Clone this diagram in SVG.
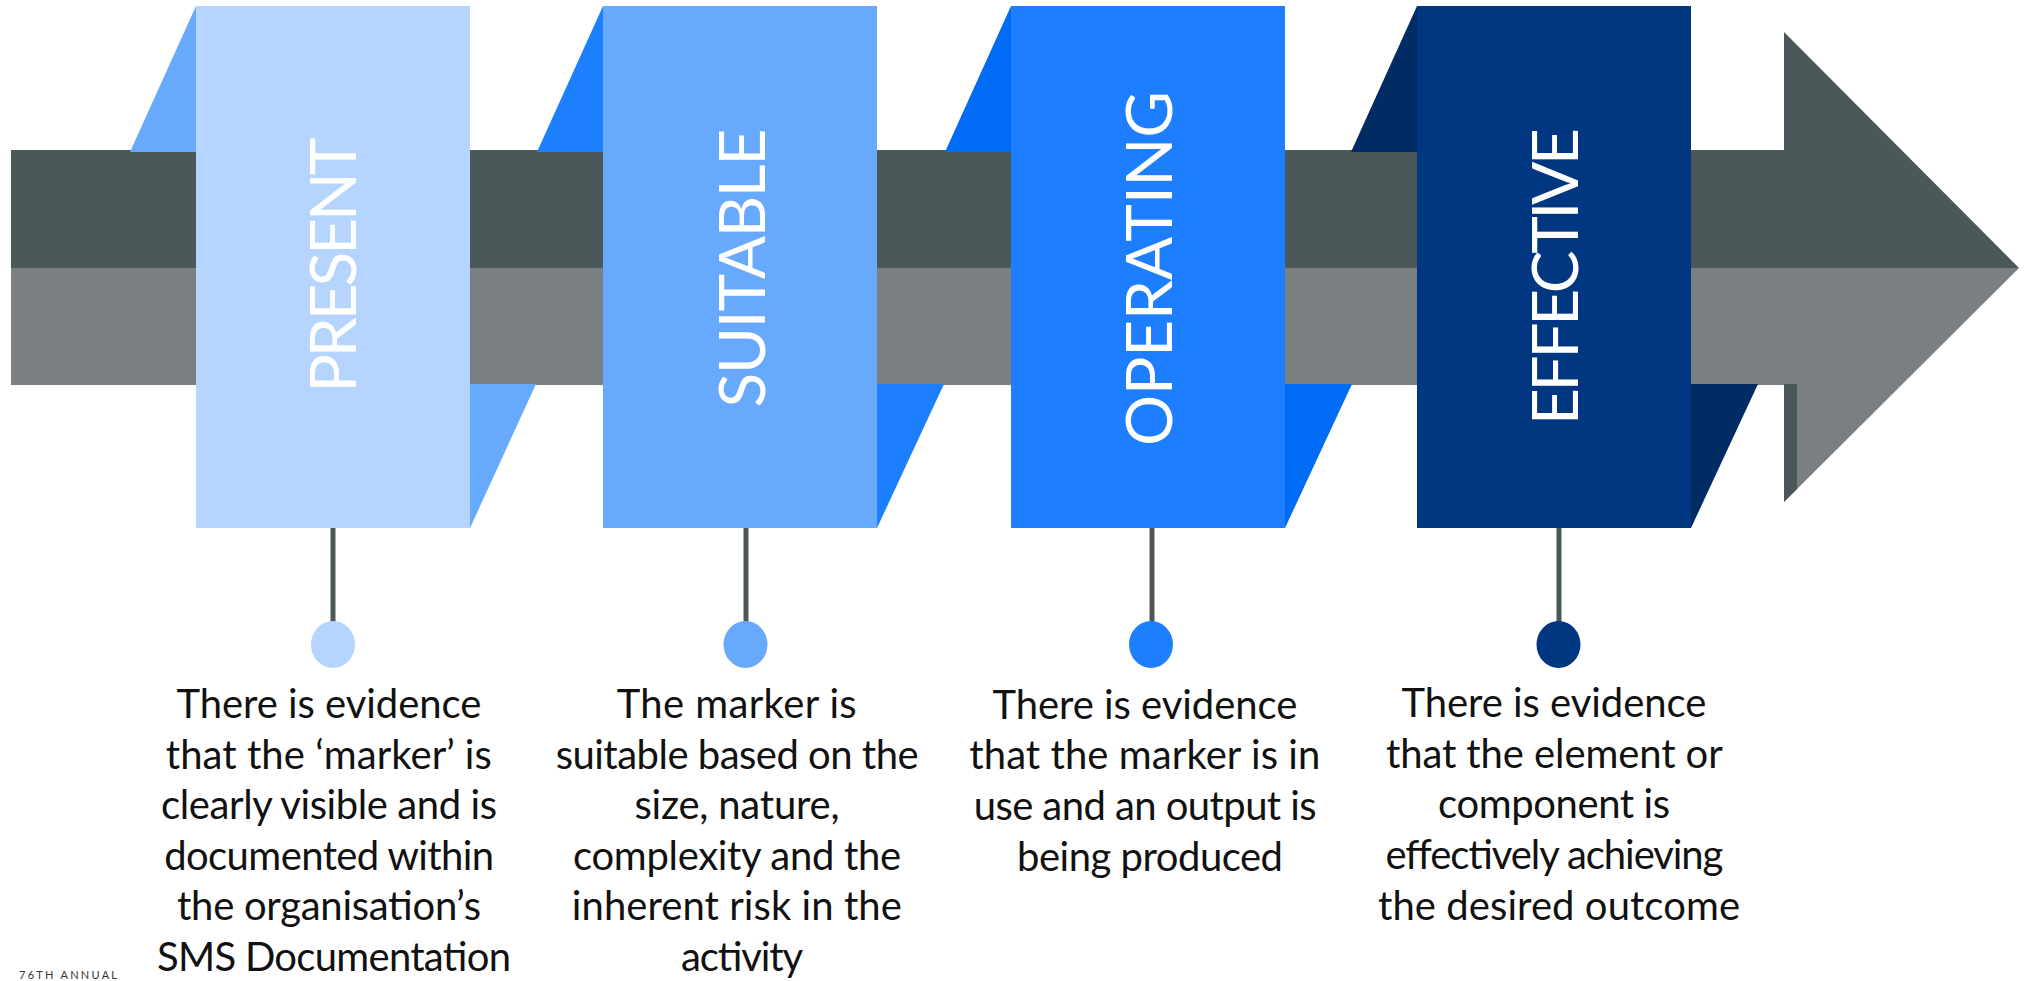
<svg xmlns="http://www.w3.org/2000/svg" width="2026" height="981" viewBox="0 0 2026 981">
  <style>
    .label { font-family: Lato, "Open Sans", "Liberation Sans", sans-serif; font-weight: 400; font-size: 64px; fill: #ffffff; text-anchor: middle; }
    .desc { font-family: Lato, "Open Sans", "Liberation Sans", sans-serif; font-size: 40px; fill: #111111; text-anchor: middle; }
    .stem { stroke: #4d5759; stroke-width: 5; fill: none; }
    .foot { font-family: Lato, "Liberation Sans", sans-serif; font-size: 11px; fill: #333333; letter-spacing: 1px; }
  </style>
  <rect x="0" y="0" width="2026" height="981" fill="#ffffff"/>

  <g id="arrow">
    <rect x="11" y="150" width="1774" height="119" fill="#4b5859"/>
    <rect x="11" y="268" width="1774" height="117" fill="#7a8081"/>
    <polygon points="1784,32 2019,268 1784,268" fill="#4b5859"/>
    <polygon points="1784,268 2019,268 1784,502" fill="#7a8081"/>
    <polygon points="1784,384 1797,384 1797,489 1784,502" fill="#4b5859"/>
  </g>

  <g id="connectors">
    <line class="stem" x1="333" y1="526" x2="333" y2="624"/>
    <line class="stem" x1="746" y1="526" x2="746" y2="624"/>
    <line class="stem" x1="1152" y1="526" x2="1152" y2="624"/>
    <line class="stem" x1="1559" y1="526" x2="1559" y2="624"/>
  </g>

  <g id="node-present">
    <polygon points="130,152 196,6 196,152" fill="#66a9fd"/>
    <polygon points="470,384 536,384 470,528" fill="#66a9fd"/>
    <rect x="196" y="6" width="274" height="522" fill="#b5d5fe"/>
    <text class="label" transform="translate(356,265) rotate(-90)" textLength="255" lengthAdjust="spacing">PRESENT</text>
    <ellipse cx="333" cy="644.5" rx="22" ry="23.5" fill="#b5d5fe"/>
    <text class="desc">
      <tspan x="334" y="718" textLength="305" lengthAdjust="spacing">There is evidence</tspan>
      <tspan x="334" y="769" textLength="326" lengthAdjust="spacing">that the ‘marker’ is</tspan>
      <tspan x="334" y="819" textLength="336" lengthAdjust="spacing">clearly visible and is</tspan>
      <tspan x="334" y="870" textLength="330" lengthAdjust="spacing">documented within</tspan>
      <tspan x="334" y="920" textLength="304" lengthAdjust="spacing">the organisation’s</tspan>
      <tspan x="334" y="971" textLength="354" lengthAdjust="spacing">SMS Documentation</tspan>
    </text>
  </g>

  <g id="node-suitable">
    <polygon points="537,152 603,6 603,152" fill="#1c7ffe"/>
    <polygon points="877,384 944,384 877,528" fill="#1c7ffe"/>
    <rect x="603" y="6" width="274" height="522" fill="#66a9fd"/>
    <text class="label" transform="translate(765,268) rotate(-90)" textLength="279" lengthAdjust="spacing">SUITABLE</text>
    <ellipse cx="745.5" cy="644.5" rx="22" ry="23.5" fill="#66a9fd"/>
    <text class="desc">
      <tspan x="742" y="718" textLength="240" lengthAdjust="spacing">The marker is</tspan>
      <tspan x="742" y="769" textLength="363" lengthAdjust="spacing">suitable based on the</tspan>
      <tspan x="742" y="819" textLength="205" lengthAdjust="spacing">size, nature,</tspan>
      <tspan x="742" y="870" textLength="328" lengthAdjust="spacing">complexity and the</tspan>
      <tspan x="742" y="920" textLength="330" lengthAdjust="spacing">inherent risk in the</tspan>
      <tspan x="742" y="971" textLength="122" lengthAdjust="spacing">activity</tspan>
    </text>
  </g>

  <g id="node-operating">
    <polygon points="945,152 1011,6 1011,152" fill="#006cf5"/>
    <polygon points="1285,384 1352,384 1285,528" fill="#006cf5"/>
    <rect x="1011" y="6" width="274" height="522" fill="#1d7fff"/>
    <text class="label" transform="translate(1172,268.5) rotate(-90)" textLength="355" lengthAdjust="spacing">OPERATING</text>
    <ellipse cx="1151" cy="644.5" rx="22" ry="23.5" fill="#1d7fff"/>
    <text class="desc">
      <tspan x="1150" y="719" textLength="305" lengthAdjust="spacing">There is evidence</tspan>
      <tspan x="1150" y="769" textLength="351" lengthAdjust="spacing">that the marker is in</tspan>
      <tspan x="1150" y="820" textLength="343" lengthAdjust="spacing">use and an output is</tspan>
      <tspan x="1150" y="871" textLength="266" lengthAdjust="spacing">being produced</tspan>
    </text>
  </g>

  <g id="node-effective">
    <polygon points="1351,152 1417,6 1417,152" fill="#012b63"/>
    <polygon points="1691,384 1758,384 1691,528" fill="#012b63"/>
    <rect x="1417" y="6" width="274" height="522" fill="#003780"/>
    <text class="label" transform="translate(1578,276.5) rotate(-90)" textLength="297" lengthAdjust="spacing">EFFECTIVE</text>
    <ellipse cx="1558.5" cy="644.5" rx="22" ry="23.5" fill="#003780"/>
    <text class="desc">
      <tspan x="1559" y="717" textLength="305" lengthAdjust="spacing">There is evidence</tspan>
      <tspan x="1559" y="768" textLength="336" lengthAdjust="spacing">that the element or</tspan>
      <tspan x="1559" y="818" textLength="232" lengthAdjust="spacing">component is</tspan>
      <tspan x="1559" y="869" textLength="338" lengthAdjust="spacing">effectively achieving</tspan>
      <tspan x="1559" y="920" textLength="362" lengthAdjust="spacing">the desired outcome</tspan>
    </text>
  </g>

  <text class="foot" x="19" y="979" textLength="99" lengthAdjust="spacing">76TH ANNUAL</text>
</svg>
